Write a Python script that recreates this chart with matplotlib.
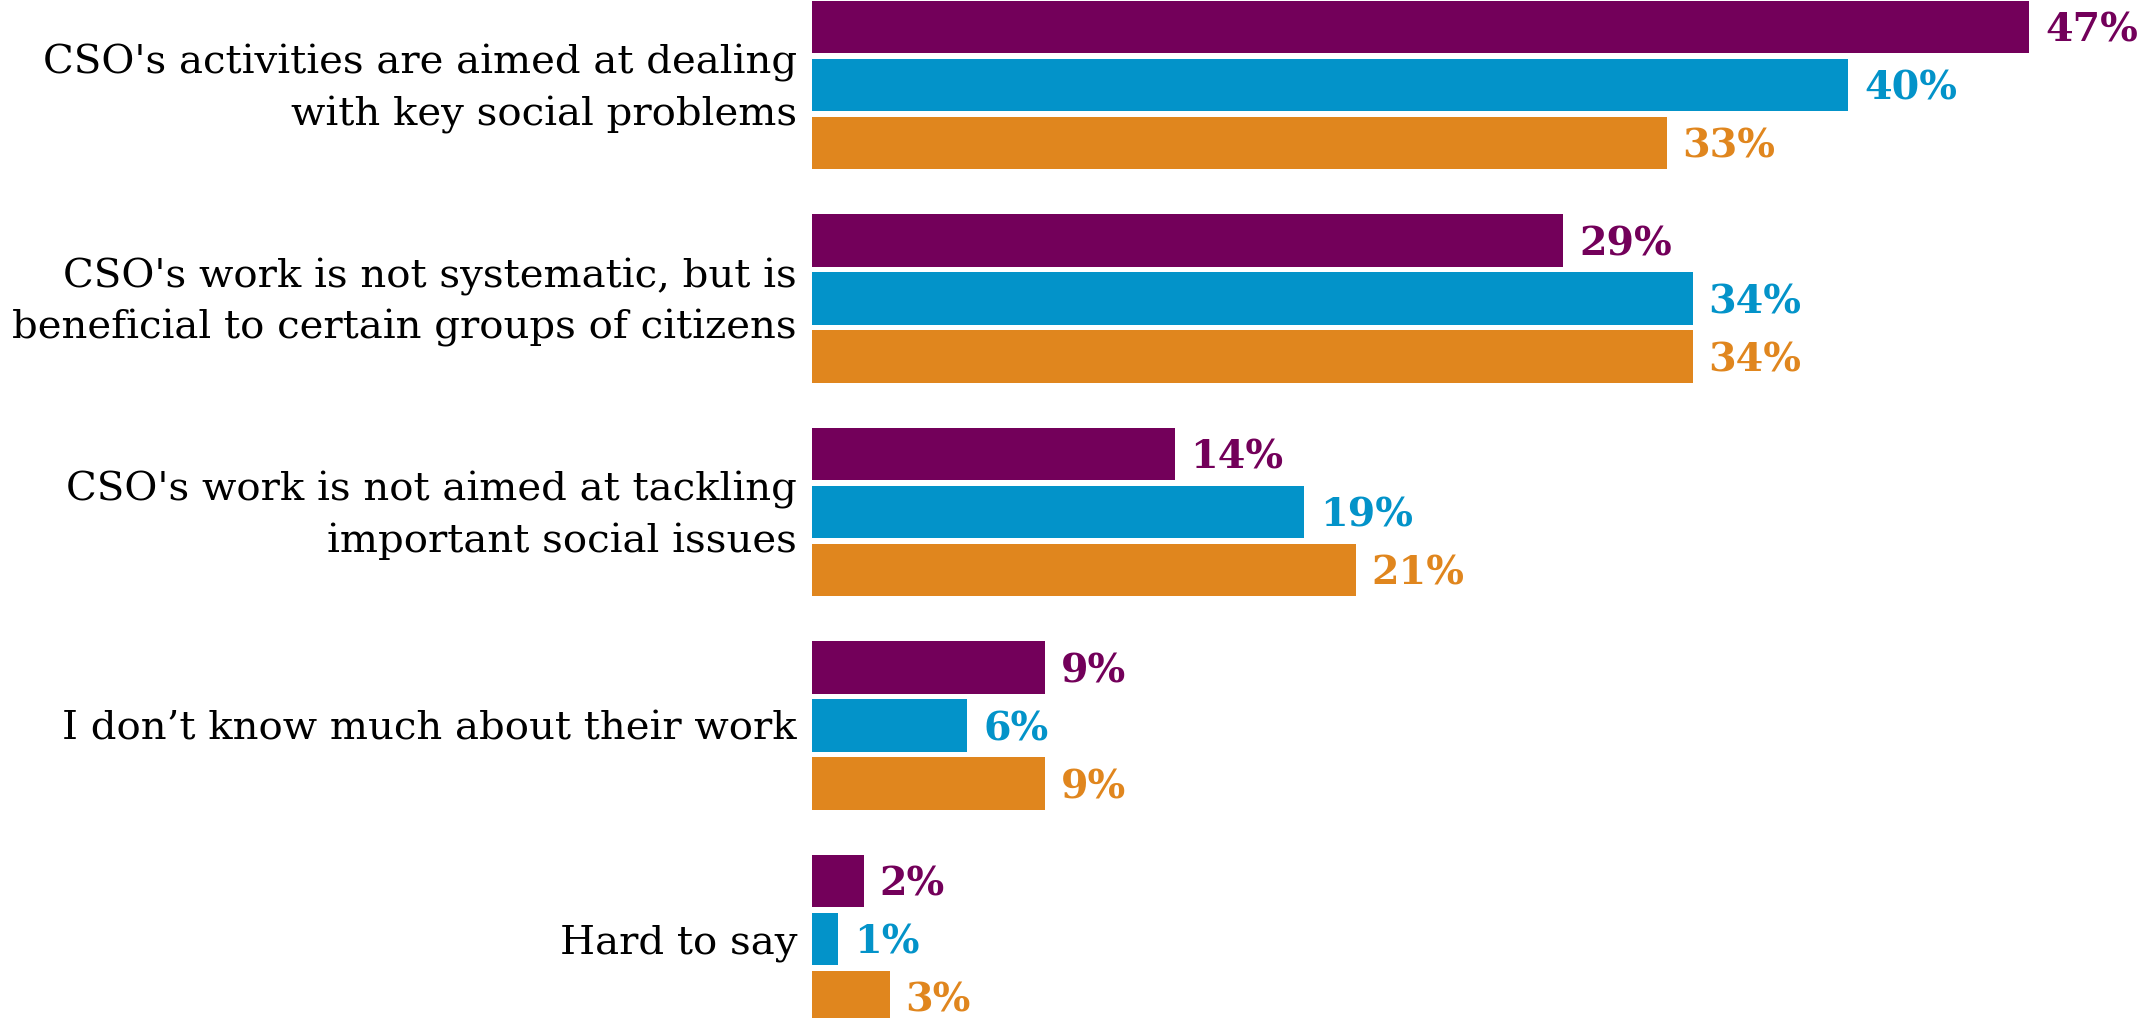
import numpy as np
import matplotlib
matplotlib.use("Agg")
from matplotlib import pyplot as plt
from matplotlib import transforms

categories = [
    "CSO's activities are aimed at dealing\nwith key social problems",
    "CSO's work is not systematic, but is\nbeneficial to certain groups of citizens",
    "CSO's work is not aimed at tackling\nimportant social issues",
    "I don\u2019t know much about their work",
    "Hard to say",
]
series_purple = [47, 29, 14, 9, 2]
series_blue = [40, 34, 19, 6, 1]
series_orange = [33, 34, 21, 9, 3]

colors = ["#73005a", "#0393c9", "#e0861e"]
series = [series_purple, series_blue, series_orange]

W, H = 2143, 1018
fig = plt.figure(figsize=(W / 100, H / 100), dpi=100)
ax = fig.add_axes([812 / W, 0, 1 - 812 / W, 1])

group_step = 3.681
bar_h = 0.897
base = np.arange(len(categories)) * group_step

for j, (vals, col) in enumerate(zip(series, colors)):
    ypos = base + j
    ax.barh(ypos, vals, height=bar_h, color=col, edgecolor="none")
    for y, v in zip(ypos, vals):
        ax.annotate(f"{v}%", xy=(v, y), xytext=(11.5, 0), textcoords="offset points",
                    ha="left", va="center_baseline", color=col, fontsize=28.5,
                    fontweight="heavy", family="DejaVu Serif")

ax.set_xlim(0, (W - 812) / 25.9)
ax.set_ylim(-27 / 58 + (H / 58), -27 / 58)
ax.set_yticks(base + 1)
ax.set_yticklabels(categories, fontsize=29, family="DejaVu Serif", color="black",
                   linespacing=1.45)
ax.tick_params(axis="y", length=0, pad=10.8)
ax.set_xticks([])
for s in ax.spines.values():
    s.set_visible(False)

# two-line labels sit a little higher in the original
shift = transforms.ScaledTranslation(0, 0.07, fig.dpi_scale_trans)
for lab in ax.get_yticklabels():
    if "\n" in lab.get_text():
        lab.set_transform(lab.get_transform() + shift)

fig.savefig("out.png", dpi=100)
